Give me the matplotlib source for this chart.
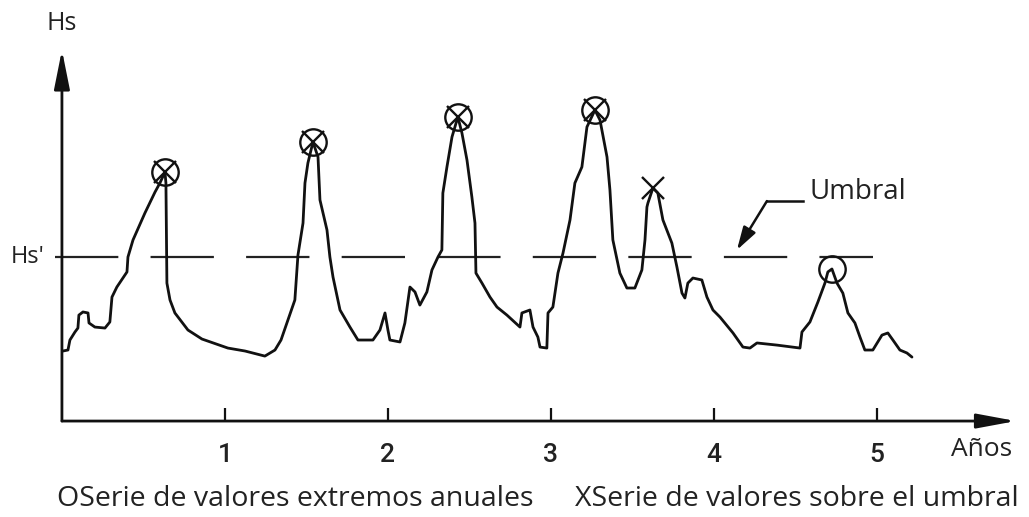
import matplotlib
matplotlib.use("Agg")
import matplotlib.pyplot as plt
from matplotlib import font_manager

# --- significant wave height record (years, Hs relative to threshold Hs' = 1) ---
years = [0.006, 0.037, 0.049, 0.080, 0.098, 0.104, 0.129, 0.160, 0.166, 0.202,
         0.264, 0.294, 0.307, 0.337, 0.374, 0.399, 0.405, 0.436, 0.509, 0.571,
         0.601, 0.632, 0.638, 0.644, 0.663, 0.693, 0.773, 0.859, 1.018, 1.123,
         1.245, 1.307, 1.344, 1.380, 1.429, 1.448, 1.479, 1.491, 1.509, 1.540,
         1.571, 1.583, 1.626, 1.644, 1.663, 1.706, 1.767, 1.816, 1.908, 1.951,
         1.982, 2.000, 2.012, 2.074, 2.104, 2.135, 2.166, 2.196, 2.239, 2.270,
         2.307, 2.331, 2.337, 2.362, 2.393, 2.429, 2.454, 2.485, 2.515, 2.534,
         2.540, 2.577, 2.626, 2.669, 2.730, 2.810, 2.822, 2.871, 2.890, 2.920,
         2.933, 2.975, 2.982, 3.012, 3.043, 3.074, 3.117, 3.147, 3.190, 3.221,
         3.270, 3.301, 3.344, 3.362, 3.380, 3.423, 3.466, 3.515, 3.558, 3.577,
         3.589, 3.595, 3.626, 3.656, 3.687, 3.742, 3.773, 3.804, 3.822, 3.840,
         3.871, 3.926, 3.957, 3.994, 4.037, 4.117, 4.178, 4.221, 4.264, 4.387,
         4.528, 4.540, 4.589, 4.638, 4.681, 4.699, 4.724, 4.755, 4.791, 4.822,
         4.865, 4.896, 4.926, 4.975, 5.031, 5.067, 5.098, 5.141, 5.184, 5.215]
hs = [0.427, 0.433, 0.494, 0.543, 0.567, 0.646, 0.665, 0.659, 0.598, 0.573,
      0.567, 0.604, 0.756, 0.817, 0.872, 0.909, 1.000, 1.104, 1.268, 1.396,
      1.451, 1.518, 1.451, 0.841, 0.738, 0.659, 0.555, 0.500, 0.445, 0.427,
      0.396, 0.433, 0.494, 0.598, 0.738, 1.012, 1.207, 1.451, 1.573, 1.701,
      1.610, 1.348, 1.165, 1.000, 0.878, 0.677, 0.573, 0.494, 0.494, 0.555,
      0.659, 0.555, 0.494, 0.482, 0.598, 0.817, 0.787, 0.707, 0.787, 0.921,
      1.000, 1.043, 1.390, 1.549, 1.732, 1.854, 1.756, 1.591, 1.366, 1.207,
      0.902, 0.841, 0.756, 0.695, 0.646, 0.573, 0.659, 0.677, 0.573, 0.512,
      0.451, 0.445, 0.659, 0.695, 0.902, 1.024, 1.226, 1.451, 1.549, 1.793,
      1.896, 1.835, 1.610, 1.409, 1.104, 0.902, 0.811, 0.811, 0.921, 1.104,
      1.305, 1.329, 1.421, 1.390, 1.226, 1.085, 0.939, 0.780, 0.750, 0.841,
      0.872, 0.860, 0.756, 0.677, 0.634, 0.537, 0.451, 0.445, 0.476, 0.463,
      0.445, 0.543, 0.604, 0.726, 0.841, 0.909, 0.927, 0.841, 0.780, 0.659,
      0.598, 0.512, 0.433, 0.433, 0.524, 0.537, 0.494, 0.433, 0.415, 0.390]

# annual maxima (circles) and peaks over threshold (crosses)
annual_max_years = [0.632, 1.540, 2.429, 3.270, 4.724]
annual_max_hs = [1.518, 1.701, 1.854, 1.896, 0.927]
pot_years = [0.632, 1.540, 2.429, 3.270, 3.626]
pot_hs = [1.518, 1.701, 1.854, 1.896, 1.421]

threshold = 1.0
year_ticks = [1, 2, 3, 4, 5]
year_labels = ["1", "2", "3", "4", "5"]


def pick_font(names):
    for n in names:
        try:
            font_manager.findfont(n, fallback_to_default=False)
            return n
        except Exception:
            continue
    return "DejaVu Sans"


text_font = pick_font(["Open Sans", "Noto Sans", "DejaVu Sans"])
digit_font = pick_font(["Liberation Sans Narrow", "Roboto", "DejaVu Sans"])
ink = "#111111"
txt = "#222222"

fig = plt.figure(figsize=(10.29, 5.17), dpi=100)
ax = fig.add_axes([0, 0, 1, 1])
ax.set_xlim(-0.380, 5.933)
ax.set_ylim(-0.585, 2.567)
ax.axis("off")

# axes with arrowheads
ax.annotate("", xy=(0, 2.262), xytext=(0, 0),
            arrowprops=dict(arrowstyle="-|>,head_length=1.4,head_width=0.28",
                            mutation_scale=17, lw=2.0, color=ink,
                            shrinkA=0, shrinkB=0))
ax.annotate("", xy=(5.853, 0), xytext=(0, 0),
            arrowprops=dict(arrowstyle="-|>,head_length=1.4,head_width=0.26",
                            mutation_scale=17, lw=2.0, color=ink,
                            shrinkA=0, shrinkB=0))
ax.vlines(year_ticks, 0, 0.08, color=ink, lw=1.6)
for t, lab in zip(year_ticks, year_labels):
    ax.text(t, -0.207, lab, ha="center", va="center", fontsize=19,
            family=digit_font, fontweight="medium", color=txt)
ax.text(5.644, -0.171, "Años", ha="center", va="center", fontsize=19,
        family=text_font, color=txt)
ax.text(0, 2.421, "Hs", ha="center", va="center", fontsize=18,
        family=text_font, color=txt)
ax.text(-0.209, threshold, "Hs'", ha="center", va="center", fontsize=17,
        family=text_font, color=txt)

# threshold line
ax.plot([-0.043, 4.975], [threshold, threshold], color=txt, lw=1.6,
        dashes=(28.5, 14.5), solid_capstyle="butt")

# wave height record
ax.plot(years, hs, color=ink, lw=2.0, solid_joinstyle="round",
        solid_capstyle="round")

# selected peaks
ax.plot(annual_max_years, annual_max_hs, ls="none", marker="o", ms=19,
        mfc="none", mec=ink, mew=1.7)
ax.plot(pot_years, pot_hs, ls="none", marker="x", ms=16, mec=ink, mew=1.7)

# threshold call-out
ax.plot([4.546, 4.325], [1.341, 1.341], color=ink, lw=1.8)
ax.annotate("", xy=(4.141, 1.043), xytext=(4.325, 1.341),
            arrowprops=dict(arrowstyle="-|>,head_length=1.0,head_width=0.3",
                            mutation_scale=14, lw=1.8, color=ink,
                            shrinkA=0, shrinkB=0))
ax.text(4.589, 1.396, "Umbral", ha="left", va="center", fontsize=20,
        family=text_font, color=txt)

# legend line
ax.text(-0.031, -0.476, "OSerie de valores extremos anuales", ha="left",
        va="center", fontsize=20.5, family=text_font, color=txt)
ax.text(3.147, -0.476, "XSerie de valores sobre el umbral", ha="left",
        va="center", fontsize=20.5, family=text_font, color=txt)

fig.savefig("out.png", dpi=100)
